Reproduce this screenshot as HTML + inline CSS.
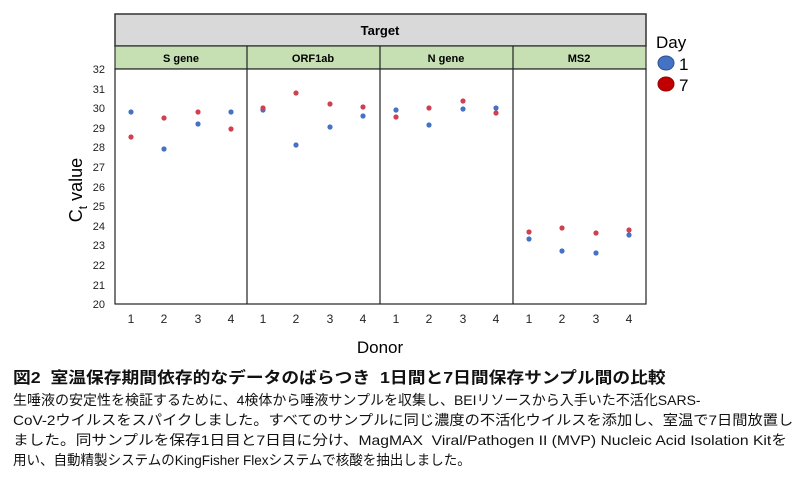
<!DOCTYPE html>
<html><head><meta charset="utf-8"><style>
body{margin:0;background:#fff;width:800px;height:482px;overflow:hidden;font-family:"Liberation Sans","Noto Sans CJK JP",sans-serif}
.t{position:absolute;left:13px;white-space:nowrap;color:#111;transform-origin:0 0;font-size:14px;line-height:20px}
</style></head><body>
<svg width="800" height="360" style="position:absolute;left:0;top:0" font-family="Liberation Sans, sans-serif">
<rect x="115" y="14" width="531" height="32" fill="#d9d9d9" stroke="#333" stroke-width="1.5"/>
<text x="380" y="35" font-size="13" font-weight="bold" text-anchor="middle">Target</text>
<rect x="115" y="46" width="531" height="23" fill="#c6e0b4" stroke="#333" stroke-width="1.2"/>
<rect x="115" y="69" width="531" height="235" fill="#fff" stroke="#222" stroke-width="1.2"/>
<g stroke="#222" stroke-width="1.2"><line x1="247" y1="46" x2="247" y2="304"/><line x1="380" y1="46" x2="380" y2="304"/><line x1="513" y1="46" x2="513" y2="304"/></g>
<g font-size="11" font-weight="bold" text-anchor="middle"><text x="181" y="62">S gene</text><text x="313" y="62">ORF1ab</text><text x="446" y="62">N gene</text><text x="579" y="62">MS2</text></g>
<g font-size="11" text-anchor="end" fill="#222">
<text x="105" y="73">32</text><text x="105" y="93">31</text><text x="105" y="112">30</text><text x="105" y="132">29</text><text x="105" y="151">28</text><text x="105" y="171">27</text><text x="105" y="191">26</text><text x="105" y="210">25</text><text x="105" y="230">24</text><text x="105" y="249">23</text><text x="105" y="269">22</text><text x="105" y="289">21</text><text x="105" y="308">20</text></g>
<g font-size="12" text-anchor="middle" fill="#222">
<text x="131" y="323">1</text><text x="164" y="323">2</text><text x="198" y="323">3</text><text x="231" y="323">4</text>
<text x="263" y="323">1</text><text x="296" y="323">2</text><text x="330" y="323">3</text><text x="363" y="323">4</text>
<text x="396" y="323">1</text><text x="429" y="323">2</text><text x="463" y="323">3</text><text x="496" y="323">4</text>
<text x="529" y="323">1</text><text x="562" y="323">2</text><text x="596" y="323">3</text><text x="629" y="323">4</text></g>
<text x="380" y="353" font-size="17" text-anchor="middle">Donor</text>
<text transform="translate(82,190) rotate(-90)" font-size="18" text-anchor="middle">C<tspan font-size="12" dy="5">t</tspan><tspan dy="-5"> value</tspan></text>
<g fill="#4472c4">
<circle cx="131" cy="112" r="2.6"/><circle cx="164" cy="149" r="2.6"/><circle cx="198" cy="124" r="2.6"/><circle cx="231" cy="112" r="2.6"/>
<circle cx="263" cy="110" r="2.6"/><circle cx="296" cy="145" r="2.6"/><circle cx="330" cy="127" r="2.6"/><circle cx="363" cy="116" r="2.6"/>
<circle cx="396" cy="110" r="2.6"/><circle cx="429" cy="125" r="2.6"/><circle cx="463" cy="109" r="2.6"/><circle cx="496" cy="108" r="2.6"/>
<circle cx="529" cy="239" r="2.6"/><circle cx="562" cy="251" r="2.6"/><circle cx="596" cy="253" r="2.6"/><circle cx="629" cy="235" r="2.6"/></g>
<g fill="#d04050">
<circle cx="131" cy="137" r="2.6"/><circle cx="164" cy="118" r="2.6"/><circle cx="198" cy="112" r="2.6"/><circle cx="231" cy="129" r="2.6"/>
<circle cx="263" cy="108" r="2.6"/><circle cx="296" cy="93" r="2.6"/><circle cx="330" cy="104" r="2.6"/><circle cx="363" cy="107" r="2.6"/>
<circle cx="396" cy="117" r="2.6"/><circle cx="429" cy="108" r="2.6"/><circle cx="463" cy="101" r="2.6"/><circle cx="496" cy="113" r="2.6"/>
<circle cx="529" cy="232" r="2.6"/><circle cx="562" cy="228" r="2.6"/><circle cx="596" cy="233" r="2.6"/><circle cx="629" cy="230" r="2.6"/></g>
<text x="656" y="48" font-size="17">Day</text>
<ellipse cx="666" cy="63" rx="8" ry="7" fill="#4472c4" stroke="#2f528f"/>
<ellipse cx="666" cy="84" rx="8" ry="7" fill="#c00000" stroke="#900"/>
<text x="679" y="70" font-size="17">1</text><text x="679" y="91" font-size="17">7</text>
</svg>
<div class="t" style="top:369px;font-size:16px;font-weight:bold;transform:scaleX(1.11)">図2&nbsp; 室温保存期間依存的なデータのばらつき&nbsp; 1日間と7日間保存サンプル間の比較</div>
<div class="t" style="top:390px">生唾液の安定性を検証するために、4検体から唾液サンプルを収集し、BEIリソースから入手いた不活化SARS-</div>
<div class="t" style="top:410px;transform:scaleX(1.089)">CoV-2ウイルスをスパイクしました。すべてのサンプルに同じ濃度の不活化ウイルスを添加し、室温で7日間放置し</div>
<div class="t" style="top:430px;transform:scaleX(1.12)">ました。同サンプルを保存1日目と7日目に分け、MagMAX&nbsp; Viral/Pathogen II (MVP) Nucleic Acid Isolation Kitを</div>
<div class="t" style="top:450px;transform:scaleX(0.965)">用い、自動精製システムのKingFisher Flexシステムで核酸を抽出しました。</div>
</body></html>
